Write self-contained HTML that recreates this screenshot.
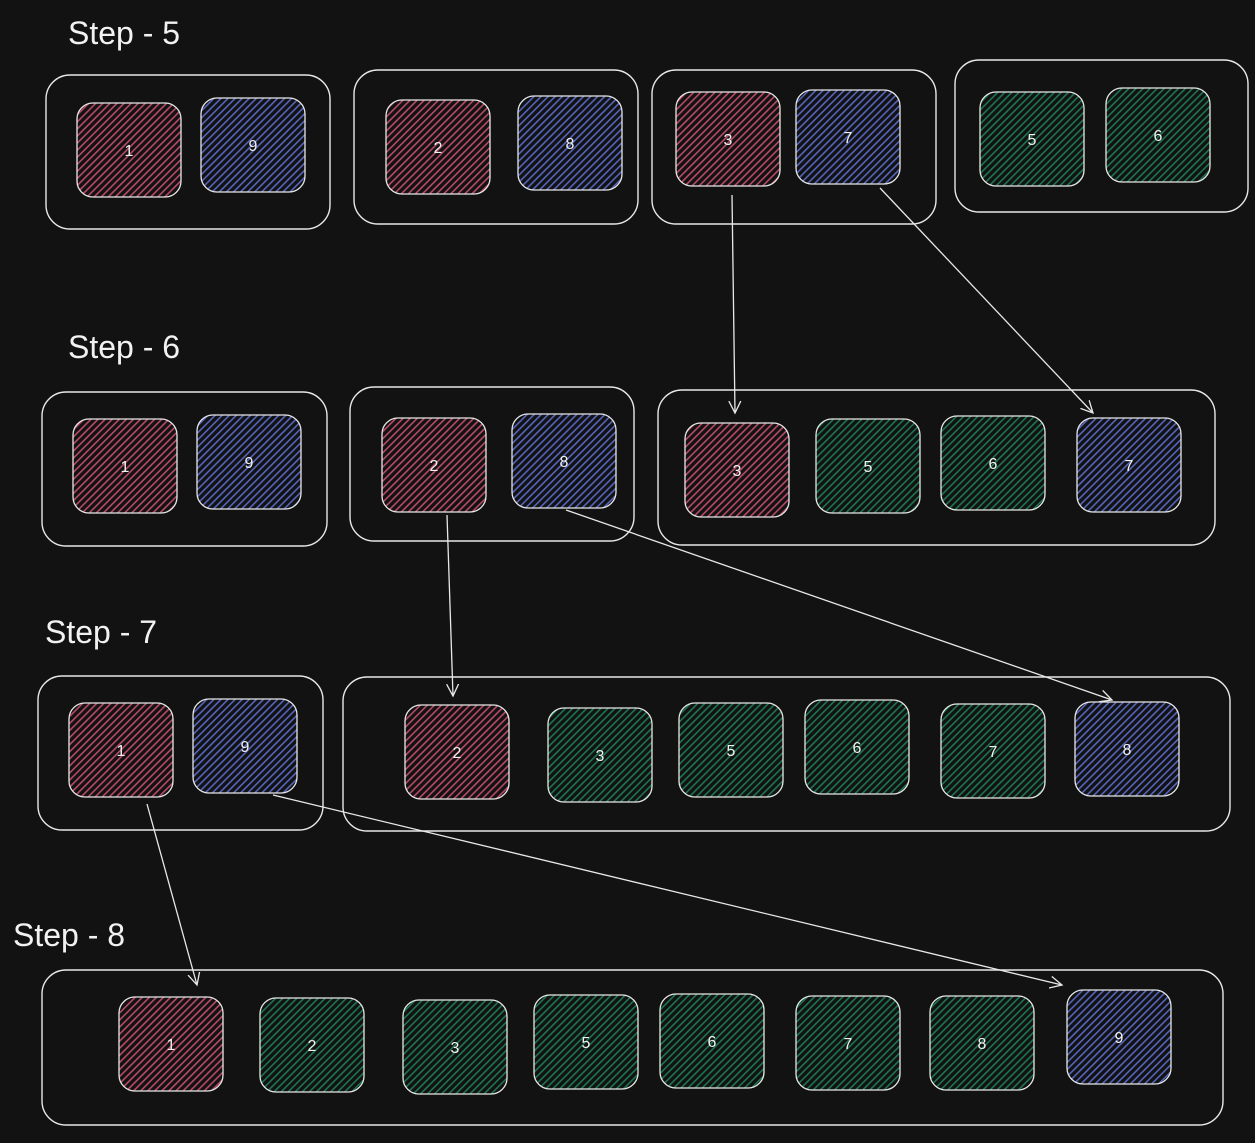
<!DOCTYPE html>
<html><head><meta charset="utf-8"><style>
html,body{margin:0;padding:0;background:#121212;}
svg{display:block}
text{font-family:"Liberation Sans",sans-serif;fill:#f2f2f2}
</style></head><body>
<svg width="1255" height="1143" viewBox="0 0 1255 1143" xmlns="http://www.w3.org/2000/svg">
<defs>
<pattern id="pk" patternUnits="userSpaceOnUse" width="5" height="5" patternTransform="rotate(45)"><rect width="5" height="5" fill="#121212"/><rect width="1.6" height="5" fill="#b84a68"/></pattern>
<pattern id="bl" patternUnits="userSpaceOnUse" width="5" height="5" patternTransform="rotate(45)"><rect width="5" height="5" fill="#121212"/><rect width="1.6" height="5" fill="#5565bd"/></pattern>
<pattern id="gr" patternUnits="userSpaceOnUse" width="5" height="5" patternTransform="rotate(45)"><rect width="5" height="5" fill="#121212"/><rect width="1.6" height="5" fill="#1d7552"/></pattern>
<marker id="ah" markerWidth="14" markerHeight="14" refX="12" refY="7" orient="auto" markerUnits="userSpaceOnUse"><path d="M0,1 L12,7 L0,13" fill="none" stroke="#e8e8e8" stroke-width="1.3"/></marker>
</defs>
<g fill="none" stroke="#e8e8e8" stroke-width="1.4">
<rect x="46" y="75" width="284" height="154" rx="24"/>
<rect x="354" y="70" width="284" height="154" rx="24"/>
<rect x="652" y="70" width="284" height="154" rx="24"/>
<rect x="955" y="60" width="293" height="152" rx="24"/>
<rect x="42" y="392" width="285" height="154" rx="24"/>
<rect x="350" y="387" width="284" height="154" rx="24"/>
<rect x="658" y="390" width="557" height="155" rx="24"/>
<rect x="38" y="676" width="285" height="154" rx="24"/>
<rect x="343" y="677" width="887" height="154" rx="24"/>
<rect x="42" y="970" width="1181" height="155" rx="24"/>
</g>
<g stroke="#e8e8e8" stroke-width="1.3">
<rect x="77" y="103" width="104" height="94" rx="16" fill="url(#pk)"/>
<rect x="201" y="98" width="104" height="94" rx="16" fill="url(#bl)"/>
<rect x="386" y="100" width="104" height="94" rx="16" fill="url(#pk)"/>
<rect x="518" y="96" width="104" height="94" rx="16" fill="url(#bl)"/>
<rect x="676" y="92" width="104" height="94" rx="16" fill="url(#pk)"/>
<rect x="796" y="90" width="104" height="94" rx="16" fill="url(#bl)"/>
<rect x="980" y="92" width="104" height="94" rx="16" fill="url(#gr)"/>
<rect x="1106" y="88" width="104" height="94" rx="16" fill="url(#gr)"/>
<rect x="73" y="419" width="104" height="94" rx="16" fill="url(#pk)"/>
<rect x="197" y="415" width="104" height="94" rx="16" fill="url(#bl)"/>
<rect x="382" y="418" width="104" height="94" rx="16" fill="url(#pk)"/>
<rect x="512" y="414" width="104" height="94" rx="16" fill="url(#bl)"/>
<rect x="685" y="423" width="104" height="94" rx="16" fill="url(#pk)"/>
<rect x="816" y="419" width="104" height="94" rx="16" fill="url(#gr)"/>
<rect x="941" y="416" width="104" height="94" rx="16" fill="url(#gr)"/>
<rect x="1077" y="418" width="104" height="94" rx="16" fill="url(#bl)"/>
<rect x="69" y="703" width="104" height="94" rx="16" fill="url(#pk)"/>
<rect x="193" y="699" width="104" height="94" rx="16" fill="url(#bl)"/>
<rect x="405" y="705" width="104" height="94" rx="16" fill="url(#pk)"/>
<rect x="548" y="708" width="104" height="94" rx="16" fill="url(#gr)"/>
<rect x="679" y="703" width="104" height="94" rx="16" fill="url(#gr)"/>
<rect x="805" y="700" width="104" height="94" rx="16" fill="url(#gr)"/>
<rect x="941" y="704" width="104" height="94" rx="16" fill="url(#gr)"/>
<rect x="1075" y="702" width="104" height="94" rx="16" fill="url(#bl)"/>
<rect x="119" y="997" width="104" height="94" rx="16" fill="url(#pk)"/>
<rect x="260" y="998" width="104" height="94" rx="16" fill="url(#gr)"/>
<rect x="403" y="1000" width="104" height="94" rx="16" fill="url(#gr)"/>
<rect x="534" y="995" width="104" height="94" rx="16" fill="url(#gr)"/>
<rect x="660" y="994" width="104" height="94" rx="16" fill="url(#gr)"/>
<rect x="796" y="996" width="104" height="94" rx="16" fill="url(#gr)"/>
<rect x="930" y="996" width="104" height="94" rx="16" fill="url(#gr)"/>
<rect x="1067" y="990" width="104" height="94" rx="16" fill="url(#bl)"/>
</g>
<g font-size="16" text-anchor="middle">
<text x="129" y="156">1</text><text x="253" y="151">9</text>
<text x="438" y="153">2</text><text x="570" y="149">8</text>
<text x="728" y="145">3</text><text x="848" y="143">7</text>
<text x="1032" y="145">5</text><text x="1158" y="141">6</text>
<text x="125" y="472">1</text><text x="249" y="468">9</text>
<text x="434" y="471">2</text><text x="564" y="467">8</text>
<text x="737" y="476">3</text><text x="868" y="472">5</text>
<text x="993" y="469">6</text><text x="1129" y="471">7</text>
<text x="121" y="756">1</text><text x="245" y="752">9</text>
<text x="457" y="758">2</text><text x="600" y="761">3</text>
<text x="731" y="756">5</text><text x="857" y="753">6</text>
<text x="993" y="757">7</text><text x="1127" y="755">8</text>
<text x="171" y="1050">1</text><text x="312" y="1051">2</text>
<text x="455" y="1053">3</text><text x="586" y="1048">5</text>
<text x="712" y="1047">6</text><text x="848" y="1049">7</text>
<text x="982" y="1049">8</text><text x="1119" y="1043">9</text>
</g>
<g font-size="32">
<text x="68" y="44">Step - 5</text>
<text x="68" y="358">Step - 6</text>
<text x="45" y="643">Step - 7</text>
<text x="13" y="946">Step - 8</text>
</g>
<g stroke="#e8e8e8" stroke-width="1.3" fill="none" marker-end="url(#ah)">
<line x1="732" y1="195" x2="735" y2="413"/>
<line x1="880" y1="188" x2="1093" y2="413"/>
<line x1="447" y1="515" x2="453" y2="696"/>
<line x1="566" y1="510" x2="1112" y2="700"/>
<line x1="147" y1="804" x2="197" y2="985"/>
<line x1="273" y1="795" x2="1062" y2="985"/>
</g>
</svg>
</body></html>
